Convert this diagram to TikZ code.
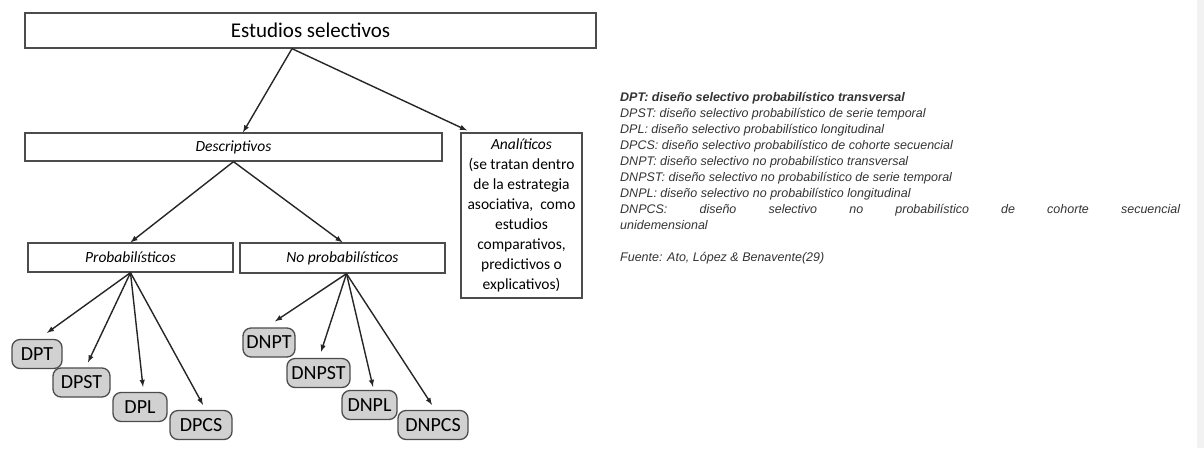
\documentclass[tikz,border=0pt]{standalone}
\usepackage{fontspec}
\setmainfont{Carlito}
\newfontfamily\notafont{Liberation Sans}
\usetikzlibrary{arrows, calc, positioning, shapes}
\tikzset
{%
caja/.style={draw=black!70, line width=1.3pt, fill=white, inner sep=0pt, align=center},
hoja/.style={draw=black!70, line width=1.3pt, fill=black!18, rounded corners=8pt, inner sep=0pt,
	minimum height=29, font=\fontsize{20}{20}\selectfont},
medio/.style={font=\fontsize{15.5}{20}\selectfont},
nota/.style={font=\notafont\fontsize{12.5}{16}\selectfont\itshape, text=black!80, align=left, inner sep=0pt},
flecha/.style={->, >=latex, line width=1.4pt, color=black!85}
}

\begin{document}
\begin{tikzpicture}[x=1pt, y=-1pt]
		\useasboundingbox (0,0) rectangle (1204,448);
		\fill[black!5] (1197,0) rectangle (1204,448);

		% tronco del arbol
		\node[caja, minimum width=571, minimum height=35, font=\fontsize{21}{21}\selectfont] (est) at (310.5,30.5) {Estudios selectivos};
		\node[caja, medio, minimum width=417, minimum height=28] (desc) at (233.5,147) {\itshape Descriptivos};
		\node[caja, medio, minimum width=121, minimum height=165] (anal) at (521.5,215.5)
			{\itshape Analíticos\\(se tratan dentro\\de la estrategia\\asociativa,\ \ como\\estudios\\comparativos,\\predictivos o\\explicativos)};
		\node[caja, medio, minimum width=205, minimum height=29] (prob) at (130.5,257.5) {\itshape Probabilísticos};
		\node[caja, medio, minimum width=205, minimum height=30] (noprob) at (342.5,258) {\itshape No probabilísticos};

		% hojas probabilisticas
		\node[hoja, minimum width=50] (dpt) at (37,354) {DPT};
		\node[hoja, minimum width=57] (dpst) at (81.5,382.5) {DPST};
		\node[hoja, minimum width=54] (dpl) at (140,407) {DPL};
		\node[hoja, minimum width=62] (dpcs) at (201,425) {DPCS};

		% hojas no probabilisticas
		\node[hoja, minimum width=52] (dnpt) at (269,342.5) {DNPT};
		\node[hoja, minimum width=63] (dnpst) at (318.5,373) {DNPST};
		\node[hoja, minimum width=55] (dnpl) at (369.5,405) {DNPL};
		\node[hoja, minimum width=70] (dnpcs) at (433,425) {DNPCS};

		\path[flecha] ([xshift=-18.5pt]est.south) edge ([xshift=9.5pt]desc.north)
			([xshift=-18.5pt]est.south) edge ([xshift=-54.5pt, yshift=2pt]anal.north);
		\path[flecha] (desc.south) edge (prob.north) (desc.south) edge (noprob.north);
		\path[flecha] (prob.south) edge ([xshift=10pt, yshift=6pt]dpt.north)
			(prob.south) edge ([xshift=6.5pt, yshift=5pt]dpst.north)
			(prob.south) edge ([xshift=3pt, yshift=5pt]dpl.north)
			(prob.south) edge ([xshift=2pt, yshift=5pt]dpcs.north);
		\path[flecha] ([xshift=4pt]noprob.south) edge ([xshift=6pt, yshift=6pt]dnpt.north)
			([xshift=4pt]noprob.south) edge ([xshift=2.5pt, yshift=6pt]dnpst.north)
			([xshift=4pt]noprob.south) edge ([xshift=3.5pt, yshift=3pt]dnpl.north)
			([xshift=4pt]noprob.south) edge ([xshift=-1pt, yshift=5pt]dnpcs.north);

		% leyenda de siglas
		\node[nota, anchor=north west] (leyenda) at (620,92)
			{{\bfseries DPT: diseño selectivo probabilístico transversal}\\
			DPST: diseño selectivo probabilístico de serie temporal\\
			DPL: diseño selectivo probabilístico longitudinal\\
			DPCS: diseño selectivo probabilístico de cohorte secuencial\\
			DNPT: diseño selectivo no probabilístico transversal\\
			DNPST: diseño selectivo no probabilístico de serie temporal\\
			DNPL: diseño selectivo no probabilístico longitudinal\\
			\makebox[560pt][s]{DNPCS: diseño selectivo no probabilístico de cohorte secuencial}\\
			unidemensional\\[16pt]
			Fuente: Ato, López \& Benavente(29)};
	\end{tikzpicture}
\end{document}
